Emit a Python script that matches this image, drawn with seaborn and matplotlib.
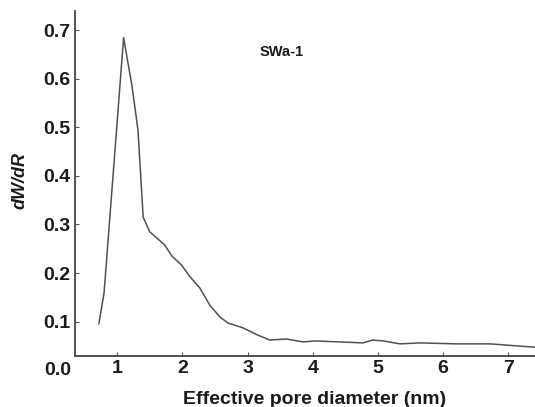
import numpy as np
import pandas as pd
import seaborn as sns
import matplotlib.pyplot as plt

# pore size distribution
diameter = [0.72, 0.80, 1.10, 1.23, 1.32, 1.40, 1.50, 1.61, 1.73, 1.84,
            1.99, 2.12, 2.27, 2.42, 2.58, 2.70, 2.93, 3.16, 3.34, 3.60,
            3.85, 4.03, 4.42, 4.77, 4.92, 5.08, 5.34, 5.64, 6.21, 6.72,
            7.22, 7.41]
dwdr = [0.095, 0.159, 0.685, 0.584, 0.495, 0.315, 0.285, 0.272, 0.258, 0.235,
        0.216, 0.192, 0.169, 0.134, 0.109, 0.097, 0.087, 0.072, 0.062, 0.064,
        0.058, 0.060, 0.058, 0.056, 0.062, 0.060, 0.054, 0.056, 0.054, 0.054,
        0.049, 0.047]
xticks = [1, 2, 3, 4, 5, 6, 7]
yticks = [0.1, 0.2, 0.3, 0.4, 0.5, 0.6, 0.7]
sample = 'SWa-1'

df = pd.DataFrame({'d': diameter, 'dwdr': dwdr})

sns.set_style('ticks')
plt.rcParams['font.family'] = ['Liberation Sans', 'DejaVu Sans']

fig = plt.figure(figsize=(5.35, 4.07), dpi=100)
ax = fig.add_axes([0.140, 0.1253, 0.860, 0.8477])
sns.lineplot(data=df, x='d', y='dwdr', ax=ax, color='#505050', linewidth=1.1)

ax.set_xlim(0.353, 7.408)
ax.set_ylim(0.029, 0.740)
ax.set_xticks(xticks)
ax.set_yticks(yticks)
ax.set_xticklabels([str(t) for t in xticks], fontsize=14, fontweight='bold', color='#1a1a1a')
ax.set_yticklabels([f'{t:.1f}' for t in yticks], fontsize=14, fontweight='bold', color='#1a1a1a')
ax.tick_params(direction='in', length=3, width=0.8, color='#555555', pad=3)

# the zero label sits below the drawn axis in the original
trans = ax.get_yaxis_transform()
ax.text(-0.009, 0.0, '0.0', transform=trans, ha='right', va='center',
        fontsize=14, fontweight='bold', color='#1a1a1a', clip_on=False)

for s in ['top', 'right']:
    ax.spines[s].set_visible(False)
for s in ['left', 'bottom']:
    ax.spines[s].set_color('#444444')
    ax.spines[s].set_linewidth(1.3)

ax.set_xlabel('Effective pore diameter (nm)', fontsize=14, fontweight='bold', color='#1a1a1a')
ax.set_ylabel('dW/dR', fontsize=13, fontweight='bold', style='italic', color='#1a1a1a')
ax.xaxis.set_label_coords(0.52, -0.102)
ax.yaxis.set_label_coords(-0.10, 0.51)

ax.text(0.45, 0.88, sample, transform=ax.transAxes, ha='center', va='center',
        fontsize=10.5, fontweight='bold', color='#1a1a1a')

fig.savefig('out.png', dpi=100)
